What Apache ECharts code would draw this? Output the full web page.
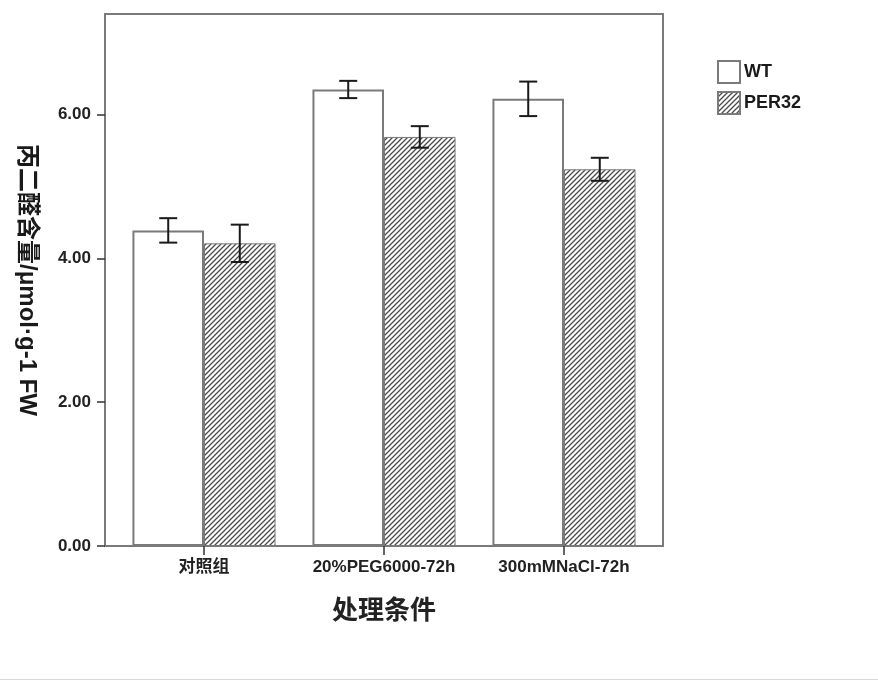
<!DOCTYPE html>
<html>
<head>
<meta charset="utf-8">
<script src="https://cdn.jsdelivr.net/npm/echarts@6/dist/echarts.min.js"></script>
<style>
  html, body { margin: 0; padding: 0; background: #fff; }
  #chart { width: 878px; height: 683px; }
</style>
</head>
<body>
<div id="chart"></div>
<script>
// Malondialdehyde content by treatment, WT vs PER32 (mean ± error)
const categories = ['对照组', '20%PEG6000-72h', '300mMNaCl-72h'];
const seriesNames = ['WT', 'PER32'];
const wtMean = [4.39, 6.35, 6.22];
const wtErr = [0.17, 0.12, 0.24];
const perMean = [4.21, 5.69, 5.24];
const perErr = [0.26, 0.15, 0.16];
const yTicks = [0, 2, 4, 6];

const LATIN = '"Liberation Sans", Arial, "Noto Sans CJK SC", sans-serif';
const CJK = '"Noto Sans CJK SC", "Liberation Sans", sans-serif';
const CAT_GAP = 0.205;

// diagonal hatch tile for the PER32 bars
function hatchTile() {
  const n = 5;
  const c = document.createElement('canvas');
  c.width = n; c.height = n;
  const g = c.getContext('2d');
  g.fillStyle = '#ffffff';
  g.fillRect(0, 0, n, n);
  g.strokeStyle = '#4a4a4a';
  g.lineWidth = 1.3;
  g.beginPath();
  g.moveTo(0, n); g.lineTo(n, 0);
  g.moveTo(-1, 1); g.lineTo(1, -1);
  g.moveTo(n - 1, n + 1); g.lineTo(n + 1, n - 1);
  g.stroke();
  return c;
}

function errorSeries(name, means, errs, side) {
  return {
    type: 'custom',
    name: name + '-err',
    xAxisIndex: 1,
    yAxisIndex: 1,
    z: 5,
    silent: true,
    data: means.map((m, i) => [i, m, errs[i]]),
    renderItem: function (params, api) {
      const i = api.value(0);
      const m = api.value(1);
      const e = api.value(2);
      const band = api.size([1, 0])[0];
      const barW = band * (1 - CAT_GAP) / 2;
      const hi = api.coord([i, m + e]);
      const lo = api.coord([i, m - e]);
      const x = hi[0] + side * barW / 2;
      const cap = 9;
      const style = { stroke: '#1a1a1a', lineWidth: 2 };
      return {
        type: 'group',
        children: [
          { type: 'line', shape: { x1: x, y1: hi[1], x2: x, y2: lo[1] }, style: style },
          { type: 'line', shape: { x1: x - cap, y1: hi[1], x2: x + cap, y2: hi[1] }, style: style },
          { type: 'line', shape: { x1: x - cap, y1: lo[1], x2: x + cap, y2: lo[1] }, style: style }
        ]
      };
    }
  };
}

const chart = echarts.init(document.getElementById('chart'), null, { renderer: 'canvas' });

const option = {
  backgroundColor: '#ffffff',
  animation: false,
  grid: [
    // outer frame
    { left: 105, top: 14, width: 558, height: 532, show: true, borderColor: '#7a7a7a', borderWidth: 2, backgroundColor: 'transparent' },
    // plotting area
    { left: 114, top: 14, width: 540, height: 532 }
  ],
  xAxis: [
    { gridIndex: 0, type: 'value', show: false, min: 0, max: 1 },
    {
      gridIndex: 1,
      type: 'category',
      data: categories,
      axisLine: { show: false },
      axisTick: { show: true, alignWithLabel: true, length: 9, lineStyle: { color: '#333', width: 1.5 } },
      axisLabel: { interval: 0, hideOverlap: false, margin: 13, fontFamily: LATIN, fontWeight: 'bold', fontSize: 17, color: '#222' },
      name: '处理条件',
      nameLocation: 'middle',
      nameGap: 50,
      nameTextStyle: { fontFamily: CJK, fontWeight: 'bold', fontSize: 26, color: '#222' }
    }
  ],
  yAxis: [
    { gridIndex: 0, type: 'value', show: false, min: 0, max: 1 },
    {
      gridIndex: 1,
      type: 'value',
      min: 0,
      max: 7.4,
      interval: 2,
      offset: 9,
      axisLine: { show: false },
      splitLine: { show: false },
      axisTick: { show: true, length: 8, customValues: yTicks, lineStyle: { color: '#333', width: 1.5 } },
      axisLabel: {
        customValues: yTicks,
        margin: 14,
        formatter: v => v.toFixed(2),
        fontFamily: LATIN, fontWeight: 'bold', fontSize: 17, color: '#222'
      },
      name: '丙二醛含量/μmol·g-1 FW',
      nameLocation: 'middle',
      nameRotate: -90,
      nameGap: 66,
      nameTextStyle: { fontFamily: LATIN, fontWeight: 'bold', fontSize: 24, color: '#1a1a1a' }
    }
  ],
  legend: {
    orient: 'vertical',
    left: 717,
    top: 60,
    padding: 0,
    itemWidth: 22,
    itemHeight: 22,
    itemGap: 7,
    icon: 'rect',
    data: seriesNames,
    textStyle: { fontFamily: LATIN, fontWeight: 'bold', fontSize: 18, color: '#1a1a1a', padding: [0, 0, 0, -1] }
  },
  series: [
    {
      name: seriesNames[0],
      type: 'bar',
      xAxisIndex: 1,
      yAxisIndex: 1,
      data: wtMean,
      barGap: '0%',
      barCategoryGap: (CAT_GAP * 100) + '%',
      itemStyle: { color: '#ffffff', borderColor: '#7a7a7a', borderWidth: 2 }
    },
    {
      name: seriesNames[1],
      type: 'bar',
      xAxisIndex: 1,
      yAxisIndex: 1,
      data: perMean,
      barGap: '0%',
      barCategoryGap: (CAT_GAP * 100) + '%',
      itemStyle: { color: { image: hatchTile(), repeat: 'repeat' }, borderColor: '#7a7a7a', borderWidth: 1 }
    },
    errorSeries(seriesNames[0], wtMean, wtErr, -1),
    errorSeries(seriesNames[1], perMean, perErr, 1)
  ],
  graphic: [
    { type: 'line', silent: true, shape: { x1: 0, y1: 679.5, x2: 878, y2: 679.5 }, style: { stroke: '#d9d9d9', lineWidth: 1 } }
  ]
};

chart.setOption(option);
</script>
</body>
</html>
